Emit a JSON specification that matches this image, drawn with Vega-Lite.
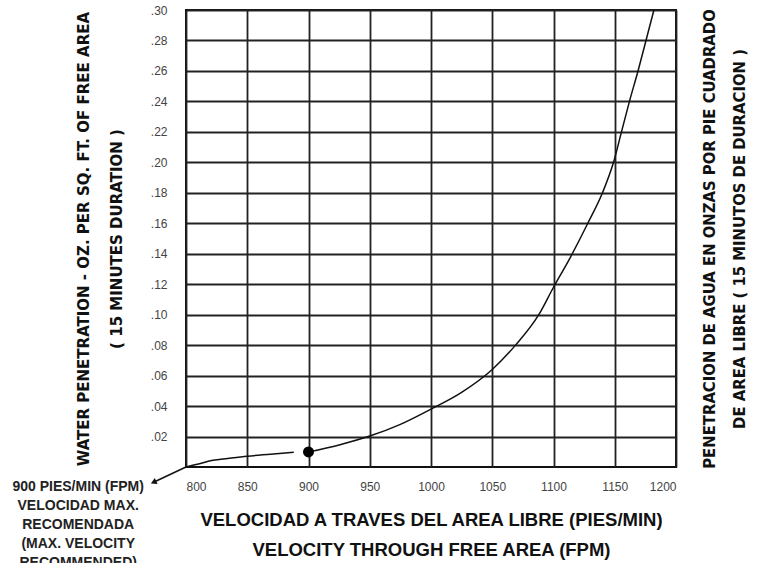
{
  "$schema": "https://vega.github.io/schema/vega-lite/v6.json",
  "autosize": "none",
  "padding": {"left": 186, "top": 10, "right": 86, "bottom": 96},
  "width": 490,
  "height": 457,
  "background": "white",
  "config": {
    "view": {"stroke": "#111", "strokeWidth": 2},
    "axis": {
      "grid": true,
      "gridColor": "#222",
      "gridWidth": 1.8,
      "gridOpacity": 1,
      "ticks": false,
      "domain": false,
      "labelFont": "Liberation Sans",
      "labelFontSize": 12,
      "labelColor": "#444",
      "titleColor": "#111",
      "titleFontWeight": "bold"
    }
  },
  "datasets": {
    "curve": [
      {"v": 800, "p": 0.0, "seg": "a"},
      {"v": 811, "p": 0.0022, "seg": "a"},
      {"v": 822, "p": 0.0044, "seg": "a"},
      {"v": 834, "p": 0.0056, "seg": "a"},
      {"v": 850, "p": 0.0071, "seg": "a"},
      {"v": 869, "p": 0.0084, "seg": "a"},
      {"v": 888, "p": 0.0097, "seg": "a"},
      {"v": 900, "p": 0.0099, "seg": "b"},
      {"v": 925, "p": 0.0145, "seg": "b"},
      {"v": 950, "p": 0.0203, "seg": "b"},
      {"v": 975, "p": 0.028, "seg": "b"},
      {"v": 1000, "p": 0.038, "seg": "b"},
      {"v": 1025, "p": 0.049, "seg": "b"},
      {"v": 1050, "p": 0.064, "seg": "b"},
      {"v": 1069, "p": 0.08, "seg": "b"},
      {"v": 1088, "p": 0.1, "seg": "b"},
      {"v": 1100, "p": 0.118, "seg": "b"},
      {"v": 1114, "p": 0.138, "seg": "b"},
      {"v": 1128, "p": 0.16, "seg": "b"},
      {"v": 1140, "p": 0.18, "seg": "b"},
      {"v": 1149, "p": 0.2, "seg": "b"},
      {"v": 1155.5, "p": 0.22, "seg": "b"},
      {"v": 1162, "p": 0.24, "seg": "b"},
      {"v": 1169, "p": 0.26, "seg": "b"},
      {"v": 1175.5, "p": 0.28, "seg": "b"},
      {"v": 1182, "p": 0.3, "seg": "b"}
    ],
    "dot": [{"v": 900, "p": 0.0099}],
    "arrow": [{"v": 800, "p": 0.0, "v2": 773.5, "p2": -0.01}],
    "note": [{"v": 712, "p": -0.0088, "label": "900 PIES/MIN (FPM)\nVELOCIDAD MAX.\nRECOMENDADA\n(MAX. VELOCITY\nRECOMMENDED)"}]
  },
  "resolve": {"axis": {"y": "independent"}},
  "layer": [
    {
      "data": {"name": "curve"},
      "mark": {"type": "line", "color": "#111", "strokeWidth": 1.5, "interpolate": "monotone"},
      "encoding": {
        "x": {
          "field": "v",
          "type": "quantitative",
          "scale": {"domain": [800, 1200], "nice": false, "zero": false},
          "axis": {
            "values": [800, 850, 900, 950, 1000, 1050, 1100, 1150, 1200],
            "format": "d",
            "labelPadding": 14,
            "title": ["VELOCIDAD A TRAVES DEL AREA LIBRE (PIES/MIN)", "VELOCITY THROUGH FREE AREA (FPM)"],
            "titleFont": "Liberation Sans",
            "titleFontSize": 18.5,
            "titleLineHeight": 30,
            "titlePadding": 18
          }
        },
        "y": {
          "field": "p",
          "type": "quantitative",
          "scale": {"domain": [0, 0.3], "nice": false},
          "axis": {
            "values": [0.02, 0.04, 0.06, 0.08, 0.1, 0.12, 0.14, 0.16, 0.18, 0.2, 0.22, 0.24, 0.26, 0.28, 0.3],
            "labelExpr": "replace(format(datum.value, '.2f'), '0.', '.')",
            "labelPadding": 19,
            "title": ["WATER PENETRATION - OZ. PER SQ. FT. OF FREE AREA", "( 15 MINUTES DURATION )"],
            "titleFont": "Liberation Sans Narrow, DejaVu Sans Condensed, sans-serif",
            "titleFontSize": 16.7,
            "titleLineHeight": 33,
            "titlePadding": 25
          }
        },
        "detail": {"field": "seg", "type": "nominal"}
      }
    },
    {
      "data": {"name": "dot"},
      "mark": {"type": "point", "filled": true, "color": "#000", "opacity": 1, "size": 120},
      "encoding": {
        "x": {"field": "v", "type": "quantitative"},
        "y": {
          "field": "p",
          "type": "quantitative",
          "axis": {
            "orient": "right",
            "grid": false,
            "labels": false,
            "title": ["PENETRACION DE AGUA EN ONZAS POR PIE CUADRADO", "DE AREA LIBRE ( 15 MINUTOS DE DURACION )"],
            "titleAngle": 270,
            "titleFont": "Liberation Sans Narrow, DejaVu Sans Condensed, sans-serif",
            "titleFontSize": 16.5,
            "titleLineHeight": 30,
            "titlePadding": 11
          }
        }
      }
    },
    {
      "data": {"name": "arrow"},
      "mark": {"type": "rule", "color": "#111", "strokeWidth": 1.5},
      "encoding": {
        "x": {"field": "v", "type": "quantitative"},
        "y": {"field": "p", "type": "quantitative", "axis": null},
        "x2": {"field": "v2"},
        "y2": {"field": "p2"}
      }
    },
    {
      "data": {"name": "arrow"},
      "mark": {"type": "point", "shape": "triangle-up", "filled": true, "color": "#111", "opacity": 1, "size": 45, "angle": 245},
      "encoding": {
        "x": {"field": "v2", "type": "quantitative"},
        "y": {"field": "p2", "type": "quantitative", "axis": null}
      }
    },
    {
      "data": {"name": "note"},
      "mark": {"type": "text", "lineBreak": "\n", "lineHeight": 19, "align": "center", "baseline": "top", "font": "Liberation Sans", "fontWeight": "bold", "fontSize": 14, "color": "#222"},
      "encoding": {
        "x": {"field": "v", "type": "quantitative"},
        "y": {"field": "p", "type": "quantitative", "axis": null},
        "text": {"field": "label"}
      }
    }
  ]
}
